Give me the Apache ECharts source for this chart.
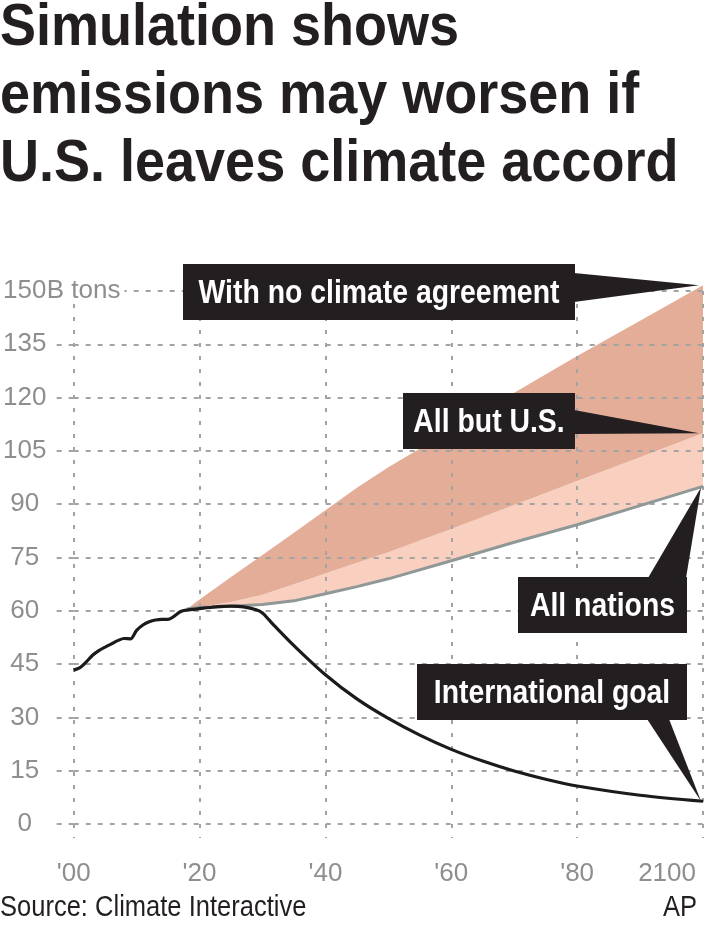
<!DOCTYPE html>
<html>
<head>
<meta charset="utf-8">
<script src="https://cdn.jsdelivr.net/npm/echarts@6/dist/echarts.min.js"></script>
<style>
  html, body { margin: 0; padding: 0; background: #fff; }
  #chart { width: 712px; height: 929px; }
</style>
</head>
<body>
<div id="chart"></div>
<script>
// historical emissions, then the path to the international goal
var goalYears = [2000, 2001, 2002, 2003, 2004, 2005, 2006, 2007, 2008, 2009, 2010, 2011, 2012, 2013, 2014, 2015, 2016, 2017, 2018,
  2020, 2022, 2025, 2027, 2029, 2030, 2031, 2032, 2035, 2040, 2045, 2050, 2055, 2060, 2065, 2070, 2075, 2080, 2090, 2100];
var goalValues = [43.3, 44.0, 45.6, 47.5, 48.8, 49.8, 50.7, 51.6, 52.2, 52.1, 54.5, 56.0, 56.9, 57.4, 57.6, 57.6, 58.5, 59.8, 60.2,
  60.6, 61.0, 61.3, 61.1, 60.3, 59.4, 57.5, 55.6, 50.2, 42.0, 35.2, 29.7, 25.0, 21.0, 17.7, 14.9, 12.6, 10.7, 8.1, 6.4];

// scenario projections (billion tons)
var scenYears = [2018, 2020, 2025, 2030, 2035, 2040, 2045, 2050, 2060, 2070, 2080, 2090, 2100];
var allNations = [60.5, 60.9, 61.3, 61.8, 62.8, 64.8, 66.8, 69.0, 74.1, 79.3, 84.2, 89.6, 95.0];
var allButUS = [60.5, 61.0, 62.5, 64.5, 67.5, 70.5, 73.5, 76.5, 83.0, 89.8, 96.5, 103.2, 110.0];
var noAgreement = [60.5, 63.2, 69.5, 75.7, 82.0, 88.3, 94.6, 100.4, 110.9, 121.4, 131.7, 141.6, 151.6];

var titleLines = ['Simulation shows', 'emissions may worsen if', 'U.S. leaves climate accord'];
var labels = ['With no climate agreement', 'All but U.S.', 'All nations', 'International goal'];

var SANS = '"Liberation Sans", Arial, sans-serif';
var GRID = '#a3a3a3';
var LABEL = '#8e8e8e';
var INK = '#231f20';

function pairs(xs, ys) {
  return xs.map(function (x, i) { return [x, ys[i]]; });
}

// band between two scenario curves, drawn once as one polygon
function bandSeries(name, lower, upper, color) {
  return {
    name: name, type: 'custom', silent: true, z: 1,
    encode: { x: 0, y: [1, 2] },
    data: scenYears.map(function (x, i) { return [x, lower[i], upper[i]]; }),
    renderItem: function (params, api) {
      if (params.dataIndex !== 0) return;
      var top = [], bottom = [];
      for (var i = 0; i < scenYears.length; i++) {
        top.push(api.coord([scenYears[i], upper[i]]));
        bottom.unshift(api.coord([scenYears[i], lower[i]]));
      }
      return { type: 'polygon', shape: { points: top.concat(bottom) }, style: { fill: color } };
    }
  };
}

var chart = echarts.init(document.getElementById('chart'));

chart.setOption({
  animation: false,
  backgroundColor: '#fff',
  grid: { left: 70, right: 9, top: 291, bottom: 105 },
  xAxis: {
    type: 'value', min: 2000, max: 2100, interval: 20, z: 3,
    axisLine: { show: false },
    axisTick: { show: true, length: 14, lineStyle: { color: GRID, width: 2, type: [4, 9] } },
    splitLine: { show: true, lineStyle: { color: GRID, width: 2, type: [4, 9] } },
    axisLabel: {
      margin: 37, color: LABEL, fontFamily: SANS, fontSize: 26,
      alignMaxLabel: 'right',
      formatter: function (v) {
        if (v === 2100) return '{r|2100}';
        return "'" + String(v % 100).padStart(2, '0');
      },
      rich: { r: { color: LABEL, fontFamily: SANS, fontSize: 26, padding: [0, 7, 0, 0] } }
    }
  },
  yAxis: {
    type: 'value', min: 0, max: 150, interval: 15, z: 3,
    axisLine: { show: false },
    axisTick: { show: true, length: 18, lineStyle: { color: GRID, width: 2, type: [5, 7] } },
    splitLine: { show: true, lineStyle: { color: GRID, width: 2, type: [5, 7] } },
    axisLabel: {
      margin: 70, align: 'left',
      formatter: function (v) {
        if (v === 150) return '{n|150}{u|B tons}';
        return '{n|' + v + '}';
      },
      rich: {
        n: { width: 42, align: 'center', color: LABEL, fontFamily: SANS, fontSize: 26, backgroundColor: '#fff' },
        u: { color: LABEL, fontFamily: SANS, fontSize: 26, backgroundColor: '#fff', padding: [0, 4, 0, 1] }
      }
    }
  },
  series: [
    bandSeries('All but U.S.', allNations, allButUS, '#f9d0c0'),
    bandSeries('With no climate agreement', allButUS, noAgreement, '#e4ad98'),
    {
      name: 'All nations', type: 'line', z: 4, data: pairs(scenYears, allNations),
      showSymbol: false, lineStyle: { color: '#8f9896', width: 3 }, clip: false
    },
    {
      name: 'International goal', type: 'line', z: 5, data: pairs(goalYears, goalValues),
      showSymbol: false, smooth: 0.3, lineStyle: { color: '#1c1a1a', width: 3.2 }, clip: false
    }
  ]
});

// callout boxes, pointers aimed at the 2100 end of each scenario
function tip(v) { return chart.convertToPixel({ gridIndex: 0 }, [2100, v]); }
var tNo = tip(noAgreement[noAgreement.length - 1]);
var tBut = tip(allButUS[allButUS.length - 1]);
var tAll = tip(allNations[allNations.length - 1]);
var tGoal = tip(goalValues[goalValues.length - 1]);

function box(x, y, w, h, text) {
  return [
    { type: 'rect', shape: { x: x, y: y, width: w, height: h }, style: { fill: INK }, z: 100 },
    { type: 'text', z: 101, x: x + w / 2, y: y + h / 2 + 2, scaleX: 0.86,
      style: { text: text, x: 0, y: 0, fill: '#fff', align: 'center', verticalAlign: 'middle',
        fontFamily: SANS, fontWeight: 'bold', fontSize: 33 } }
  ];
}
function wedge(pts) {
  return { type: 'polygon', z: 99, shape: { points: pts }, style: { fill: INK } };
}

var g = [];
titleLines.forEach(function (line, i) {
  g.push({ type: 'text', z: 100, x: 0, y: 28 + i * 68, scaleX: 0.9,
    style: { text: line, x: 0, y: 0, fill: INK, verticalAlign: 'middle',
      fontFamily: SANS, fontWeight: 'bold', fontSize: 60 } });
});
g = g.concat(box(183, 264, 392, 56, labels[0]));
g.push(wedge([[574, 273], [574, 302], [tNo[0] - 4, tNo[1]]]));
g = g.concat(box(403, 393, 172, 56, labels[1]));
g.push(wedge([[574, 410], [574, 434], [tBut[0] - 4, tBut[1]]]));
g = g.concat(box(518, 577, 169, 56, labels[2]));
g.push(wedge([[648, 578], [686, 578], [tAll[0] - 2, tAll[1] + 1]]));
g = g.concat(box(417, 664, 270, 56, labels[3]));
g.push(wedge([[647, 719], [669, 719], [tGoal[0] - 2, tGoal[1]]]));
g.push({ type: 'text', x: 0, y: 908, scaleX: 0.88,
  style: { text: 'Source: Climate Interactive', x: 0, y: 0, verticalAlign: 'middle',
    fill: INK, fontFamily: SANS, fontSize: 29 } });
g.push({ type: 'text', x: 697, y: 908, scaleX: 0.88,
  style: { text: 'AP', x: 0, y: 0, align: 'right', verticalAlign: 'middle',
    fill: INK, fontFamily: SANS, fontSize: 29 } });

chart.setOption({ graphic: g });
</script>
</body>
</html>
